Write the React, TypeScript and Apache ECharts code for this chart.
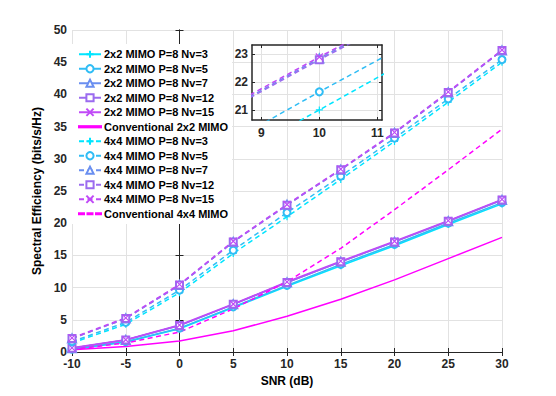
import React, { useEffect, useRef } from 'react';
import * as echarts from 'echarts';

const snr = [-10, -5, 0, 5, 10, 15, 20, 25, 30];

const mimo2Nv3 = [0.4, 1.55, 3.6, 6.9, 10.2, 13.4, 16.5, 19.8, 23.0];
const mimo2Nv5 = [0.45, 1.6, 3.7, 7.0, 10.35, 13.6, 16.7, 20.0, 23.2];
const mimo2Nv7 = [0.6, 1.85, 4.1, 7.4, 10.8, 14.0, 17.1, 20.3, 23.6];
const mimo2Nv12 = [0.6, 1.85, 4.1, 7.4, 10.8, 14.0, 17.1, 20.3, 23.6];
const mimo2Nv15 = [0.65, 1.9, 4.2, 7.45, 10.9, 14.1, 17.2, 20.4, 23.7];
const conv2 = [0.35, 0.85, 1.7, 3.3, 5.55, 8.2, 11.2, 14.5, 17.8];

const mimo4Nv3 = [1.4, 4.3, 9.2, 15.3, 21.0, 26.8, 32.7, 38.8, 45.0];
const mimo4Nv5 = [1.6, 4.6, 9.6, 15.8, 21.65, 27.3, 33.2, 39.3, 45.4];
const mimo4Nv7 = [2.1, 5.2, 10.4, 17.1, 22.85, 28.3, 34.0, 40.3, 46.8];
const mimo4Nv12 = [2.1, 5.2, 10.4, 17.1, 22.8, 28.3, 34.0, 40.3, 46.8];
const mimo4Nv15 = [2.2, 5.3, 10.5, 17.2, 22.9, 28.4, 34.1, 40.4, 46.9];
const conv4 = [0.4, 1.4, 3.1, 6.7, 10.9, 16.1, 22.1, 28.3, 34.6];

const insetXTicks = [9, 10, 11];
const insetYTicks = [21, 22, 23];

const FONT = '"Liberation Sans", Arial, Helvetica, sans-serif';
const AXIS = '#262626';
const GRID = '#e2e2e2';

const C3 = '#00E5FF';
const C5 = '#30BDF5';
const C7 = '#6A8FF0';
const C12 = '#9B6BEF';
const C15 = '#C04AF7';
const CONV = '#FF00FF';

const PLUS = 'path://M5,0L5,10M0,5L10,5';
const CROSS = 'path://M0,0L10,10M10,0L0,10';
const SOLID_ICON = 'path://M0,0H22V1.2H0Z';
const DASH_ICON = 'path://M0,0H5V1.2H0Z M8.5,0H13.5V1.2H8.5Z M17,0H22V1.2H17Z';

type Def = { name: string; data: number[]; color: string; dashed: boolean; symbol: string };

const defs: Def[] = [
  { name: '2x2 MIMO P=8 Nv=3', data: mimo2Nv3, color: C3, dashed: false, symbol: PLUS },
  { name: '2x2 MIMO P=8 Nv=5', data: mimo2Nv5, color: C5, dashed: false, symbol: 'emptyCircle' },
  { name: '2x2 MIMO P=8 Nv=7', data: mimo2Nv7, color: C7, dashed: false, symbol: 'emptyTriangle' },
  { name: '2x2 MIMO P=8 Nv=12', data: mimo2Nv12, color: C12, dashed: false, symbol: 'emptyRect' },
  { name: '2x2 MIMO P=8 Nv=15', data: mimo2Nv15, color: C15, dashed: false, symbol: CROSS },
  { name: 'Conventional 2x2 MIMO', data: conv2, color: CONV, dashed: false, symbol: 'none' },
  { name: '4x4 MIMO P=8 Nv=3', data: mimo4Nv3, color: C3, dashed: true, symbol: PLUS },
  { name: '4x4 MIMO P=8 Nv=5', data: mimo4Nv5, color: C5, dashed: true, symbol: 'emptyCircle' },
  { name: '4x4 MIMO P=8 Nv=7', data: mimo4Nv7, color: C7, dashed: true, symbol: 'emptyTriangle' },
  { name: '4x4 MIMO P=8 Nv=12', data: mimo4Nv12, color: C12, dashed: true, symbol: 'emptyRect' },
  { name: '4x4 MIMO P=8 Nv=15', data: mimo4Nv15, color: C15, dashed: true, symbol: CROSS },
  { name: 'Conventional 4x4 MIMO', data: conv4, color: CONV, dashed: true, symbol: 'none' },
];

function makeSeries(d: Def, axisIndex: number) {
  return {
    type: 'line',
    name: d.name,
    xAxisIndex: axisIndex,
    yAxisIndex: axisIndex,
    data: snr.map((x, i) => [x, d.data[i]]),
    symbol: d.symbol,
    symbolSize: d.symbol === 'emptyTriangle' ? 8 : 7,
    showSymbol: d.symbol !== 'none',
    clip: true,
    silent: true,
    lineStyle: { color: d.color, width: 1.5, type: d.dashed ? [5, 3.5] : 'solid' },
    itemStyle: { color: d.color, borderColor: d.color, borderWidth: 1.2 },
    emphasis: { disabled: true },
  };
}

const tickLabel = { color: AXIS, fontWeight: 'bold', fontSize: 12, fontFamily: FONT };

export default function App() {
  const ref = useRef<HTMLDivElement>(null);
  useEffect(() => {
    if (!ref.current) return;
    const chart = echarts.init(ref.current, undefined, { renderer: 'svg' });
    const axisLine = { show: true, lineStyle: { color: AXIS, width: 1 } };
    const option: any = {
      animation: false,
      backgroundColor: '#fff',
      grid: [
        { left: 72, top: 30, width: 430, height: 322 },
        { left: 252, top: 45, width: 130, height: 75 },
      ],
      legend: {
        orient: 'vertical',
        left: 72,
        top: 44,
        padding: [3, 4, 3, 6],
        backgroundColor: '#fff',
        itemWidth: 22,
        itemHeight: 9,
        itemGap: 0,
        data: defs.map((d) =>
          d.symbol === 'none'
            ? { name: d.name, icon: d.dashed ? DASH_ICON : SOLID_ICON, itemStyle: { color: d.color } }
            : { name: d.name }
        ),
        textStyle: { color: '#000', fontWeight: 'bold', fontSize: 11, fontFamily: FONT, lineHeight: 14.5, padding: [0, 0, 0, -2] },
        selectedMode: false,
      },
      xAxis: [
        {
          gridIndex: 0, type: 'value', min: -10, max: 30, interval: 5,
          axisLine, axisTick: { inside: true, length: 4, lineStyle: { color: AXIS } },
          axisLabel: { ...tickLabel, margin: 6 },
          splitLine: { show: true, lineStyle: { color: GRID, width: 1 } },
          name: 'SNR (dB)', nameLocation: 'middle', nameGap: 22,
          nameTextStyle: { color: '#000', fontWeight: 'bold', fontSize: 12, fontFamily: FONT },
        },
        {
          gridIndex: 0, type: 'value', position: 'top', min: -10, max: 30, interval: 5,
          axisLine, axisTick: { inside: true, length: 4, lineStyle: { color: AXIS } },
          axisLabel: { show: false }, splitLine: { show: false },
        },
        {
          gridIndex: 1, type: 'value', min: 8.84, max: 11.08,
          axisLine: { show: true, lineStyle: { color: AXIS, width: 1.5 } },
          axisTick: { inside: true, length: 3, customValues: insetXTicks, lineStyle: { color: AXIS } },
          axisLabel: { ...tickLabel, margin: 7, customValues: insetXTicks },
          splitLine: { show: true, lineStyle: { color: GRID, width: 1 } },
        },
        {
          gridIndex: 1, type: 'value', position: 'top', min: 8.84, max: 11.08,
          axisLine: { show: true, lineStyle: { color: AXIS, width: 1.5 } },
          axisTick: { inside: true, length: 3, customValues: insetXTicks, lineStyle: { color: AXIS } },
          axisLabel: { show: false }, splitLine: { show: false },
        },
      ],
      yAxis: [
        {
          gridIndex: 0, type: 'value', min: 0, max: 50, interval: 5,
          axisLine, axisTick: { show: true, inside: true, length: 4, lineStyle: { color: AXIS } },
          axisLabel: { ...tickLabel, margin: 5 },
          splitLine: { show: true, lineStyle: { color: GRID, width: 1 } },
          name: 'Spectral Efficiency (bits/s/Hz)', nameLocation: 'middle', nameGap: 19,
          nameTextStyle: { color: '#000', fontWeight: 'bold', fontSize: 12, fontFamily: FONT },
        },
        {
          gridIndex: 0, type: 'value', position: 'right', min: 0, max: 50, interval: 5,
          axisLine, axisTick: { show: true, inside: true, length: 4, lineStyle: { color: AXIS } },
          axisLabel: { show: false }, splitLine: { show: false },
        },
        {
          gridIndex: 1, type: 'value', min: 20.64, max: 23.33,
          axisLine: { show: true, lineStyle: { color: AXIS, width: 1.5 } },
          axisTick: { show: true, inside: true, length: 3, customValues: insetYTicks, lineStyle: { color: AXIS } },
          axisLabel: { ...tickLabel, margin: 4, customValues: insetYTicks },
          splitLine: { show: true, lineStyle: { color: GRID, width: 1 } },
        },
        {
          gridIndex: 1, type: 'value', position: 'right', min: 20.64, max: 23.33,
          axisLine: { show: true, lineStyle: { color: AXIS, width: 1.5 } },
          axisTick: { show: true, inside: true, length: 3, customValues: insetYTicks, lineStyle: { color: AXIS } },
          axisLabel: { show: false }, splitLine: { show: false },
        },
      ],
      series: [
        ...defs.map((d) => makeSeries(d, 0)),
        ...defs.map((d) => ({ ...makeSeries(d, 2), name: d.name + ' (zoom)' })),
      ],
    };
    chart.setOption(option);
    return () => chart.dispose();
  }, []);
  return (
    <div
      ref={ref}
      style={{ position: 'fixed', left: 0, top: 0, width: 556, height: 396, background: '#fff' }}
    />
  );
}
